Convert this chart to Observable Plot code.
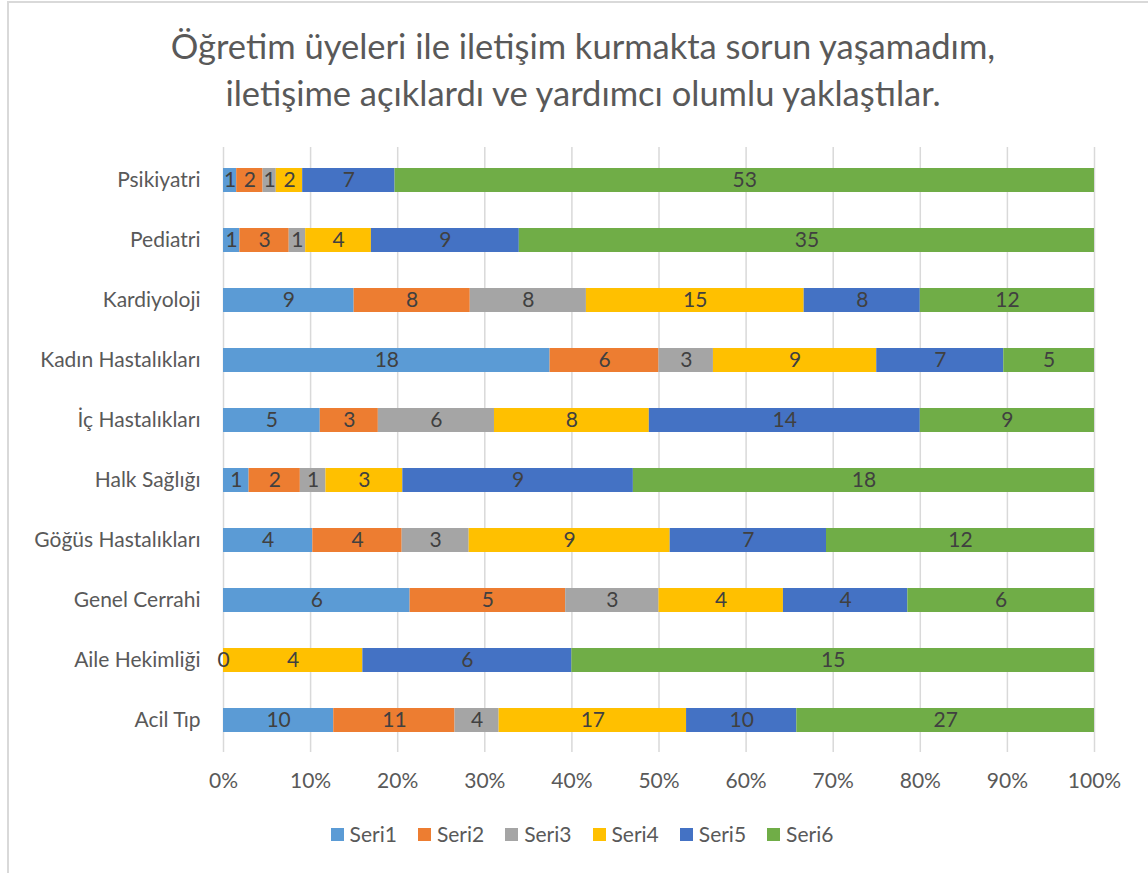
<!DOCTYPE html>
<html>
<head>
<meta charset="utf-8">
<script src="https://cdn.jsdelivr.net/npm/d3@7"></script>
<script src="https://cdn.jsdelivr.net/npm/@observablehq/plot@0.6"></script>
<style>
  html, body { margin: 0; padding: 0; background: #fff; overflow: hidden; }
  body { width: 1148px; height: 873px; position: relative; font-family: Lato, "Open Sans", "Noto Sans", sans-serif; }
  #frame { position: absolute; left: 7px; top: 1px; width: 1200px; height: 900px; border-left: 2px solid #d9d9d9; border-top: 2px solid #d9d9d9; pointer-events: none; }
  #title { height: 132px; box-sizing: border-box; padding-top: 22px; text-align: center; color: #595959; font-size: 34.5px; line-height: 47px; padding-left: 18px; white-space: nowrap; }
  #chart svg { display: block; }
  #legend { display: flex; justify-content: center; gap: 21px; margin-top: 24px; padding-left: 16px; color: #595959; font-size: 21px; line-height: 26px; }
  #legend .item { display: flex; align-items: center; gap: 6px; }
  #legend .sw { width: 13px; height: 13px; display: inline-block; }
</style>
</head>
<body>
<div id="frame"></div>
<div id="title">Öğretim üyeleri ile iletişim kurmakta sorun yaşamadım,<br>iletişime açıklardı ve yardımcı olumlu yaklaştılar.</div>
<div id="chart"></div>
<div id="legend"></div>
<script>
const categories = ["Psikiyatri", "Pediatri", "Kardiyoloji", "Kadın Hastalıkları", "İç Hastalıkları", "Halk Sağlığı", "Göğüs Hastalıkları", "Genel Cerrahi", "Aile Hekimliği", "Acil Tıp"];
const seriesNames = ["Seri1", "Seri2", "Seri3", "Seri4", "Seri5", "Seri6"];
const seriesColors = ["#5B9BD5", "#ED7D31", "#A5A5A5", "#FFC000", "#4472C4", "#70AD47"];
const seri1 = [1, 1, 9, 18, 5, 1, 4, 6, 0, 10];
const seri2 = [2, 3, 8, 6, 3, 2, 4, 5, null, 11];
const seri3 = [1, 1, 8, 3, 6, 1, 3, 3, null, 4];
const seri4 = [2, 4, 15, 9, 8, 3, 9, 4, 4, 17];
const seri5 = [7, 9, 8, 7, 14, 9, 7, 4, 6, 10];
const seri6 = [53, 35, 12, 5, 9, 18, 12, 6, 15, 27];
const xTicks = [0, 0.1, 0.2, 0.3, 0.4, 0.5, 0.6, 0.7, 0.8, 0.9, 1];

const allSeries = [seri1, seri2, seri3, seri4, seri5, seri6];
const rows = [];
allSeries.forEach((vals, si) => {
  vals.forEach((v, ci) => {
    if (v !== null) rows.push({category: categories[ci], series: seriesNames[si], value: v});
  });
});

const font = 'Lato, "Open Sans", "Noto Sans", sans-serif';
const chart = Plot.plot({
  width: 1148,
  height: 665,
  marginLeft: 223,
  marginRight: 54,
  marginTop: 15,
  marginBottom: 45,
  style: {fontFamily: font, fontSize: "21px", color: "#595959", background: "transparent"},
  x: {domain: [0, 1], ticks: xTicks, tickFormat: d3.format(".0%"), label: null},
  y: {domain: categories, paddingInner: 0.6, paddingOuter: 0.3, label: null},
  color: {domain: seriesNames, range: seriesColors},
  marks: [
    Plot.gridX(xTicks, {stroke: "#d9d9d9", strokeOpacity: 1, strokeWidth: 1.5}),
    Plot.axisX({ticks: xTicks, tickFormat: d3.format(".0%"), tickSize: 0, tickPadding: 21, fontSize: 21, label: null, color: "#595959"}),
    Plot.axisY({tickSize: 0, tickPadding: 23, fontSize: 21, label: null, color: "#595959"}),
    Plot.barX(rows, Plot.stackX({x: "value", y: "category", fill: "series", offset: "normalize", order: null})),
    Plot.text(rows, Plot.stackX({x: "value", y: "category", text: d => String(d.value), offset: "normalize", order: null, fill: "#404040", fontSize: 21}))
  ]
});
document.getElementById("chart").appendChild(chart);

const legend = document.getElementById("legend");
seriesNames.forEach((name, i) => {
  const item = document.createElement("div");
  item.className = "item";
  const sw = document.createElement("span");
  sw.className = "sw";
  sw.style.background = seriesColors[i];
  const lb = document.createElement("span");
  lb.textContent = name;
  item.appendChild(sw);
  item.appendChild(lb);
  legend.appendChild(item);
});
</script>
</body>
</html>
